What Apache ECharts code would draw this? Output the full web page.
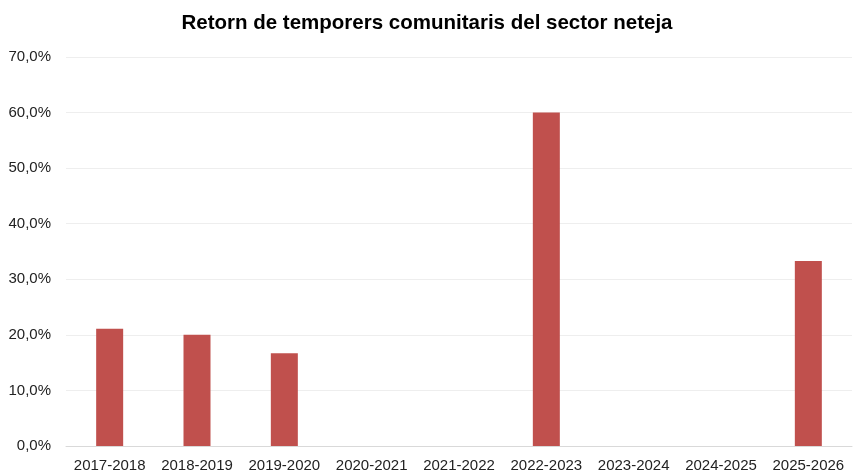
<!DOCTYPE html>
<html>
<head>
<meta charset="utf-8">
<script src="https://cdn.jsdelivr.net/npm/echarts@6/dist/echarts.min.js"></script>
<style>
  html, body { margin: 0; padding: 0; background: #fff; }
  #chart { width: 854px; height: 475px; }
</style>
</head>
<body>
<div id="chart"></div>
<script>
// dades
const categories = ['2017-2018', '2018-2019', '2019-2020', '2020-2021', '2021-2022', '2022-2023', '2023-2024', '2024-2025', '2025-2026'];
const retorn = [21.1, 20.0, 16.7, null, null, 60.0, null, null, 33.3];
const yTicks = { min: 0, max: 70, interval: 10 };

const chart = echarts.init(document.getElementById('chart'));

const option = {
  animation: false,
  title: {
    text: 'Retorn de temporers comunitaris del sector neteja',
    left: 'center',
    top: 8,
    textStyle: {
      fontFamily: '"Liberation Sans", Arial, sans-serif',
      fontSize: 20.5,
      fontWeight: 'bold',
      color: '#000',
    },
  },
  grid: {
    left: 66,
    right: 2,
    top: 57,
    bottom: 29,
    containLabel: false,
  },
  xAxis: {
    type: 'category',
    data: categories,
    axisTick: { show: false },
    axisLine: { lineStyle: { color: '#d9d9d9', width: 1 } },
    axisLabel: {
      color: '#222',
      fontFamily: '"Liberation Sans", Arial, sans-serif',
      fontSize: 15,
      margin: 12,
      interval: 0,
    },
  },
  yAxis: {
    type: 'value',
    min: yTicks.min,
    max: yTicks.max,
    interval: yTicks.interval,
    axisLine: { show: false },
    axisTick: { show: false },
    splitLine: { lineStyle: { color: '#eeeeee', width: 1 } },
    axisLabel: {
      color: '#222',
      fontFamily: '"Liberation Sans", Arial, sans-serif',
      fontSize: 15,
      margin: 15,
      formatter: (v) => v.toFixed(1).replace('.', ',') + '%',
    },
  },
  series: [
    {
      type: 'bar',
      data: retorn,
      barWidth: 27,
      itemStyle: { color: '#c0504d' },
    },
  ],
};

chart.setOption(option);
</script>
</body>
</html>
